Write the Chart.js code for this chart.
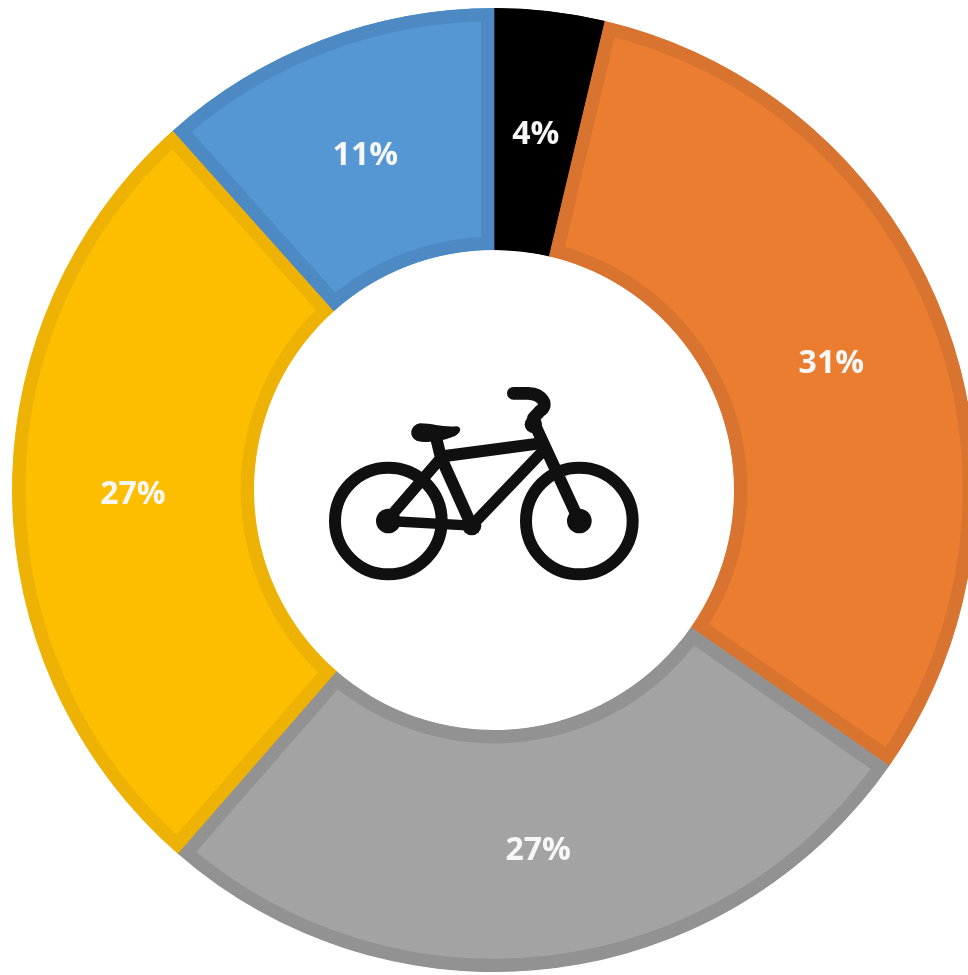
<!DOCTYPE html>
<html>
<head>
<meta charset="utf-8">
<script src="https://cdn.jsdelivr.net/npm/chart.js@4"></script>
<style>
html,body{margin:0;padding:0;background:#fff;overflow:hidden;width:968px;height:975px}
#wrap{position:absolute;left:12px;top:8px;width:964px;height:964px}
#c{filter:blur(0.6px)}
</style>
</head>
<body>
<div id="wrap"><canvas id="c" width="964" height="964"></canvas></div>
<script>
const categories = ["Black","Orange","Grey","Yellow","Blue"];
const shares = [3.7, 31, 26.7, 27, 11.6];
const shareLabels = ["4%","31%","27%","27%","11%"];
const fillColors = ["#000000","#EB7D30","#A3A3A3","#FDBE00","#5597D3"];
const rimColors = ["#000000","#D8742F","#929292","#EDB204","#4D8AC3"];

const labelPlugin = {
  id: 'sliceLabels',
  afterDatasetsDraw(chart){
    const ctx = chart.ctx;
    const arcs = chart.getDatasetMeta(0).data;
    ctx.save();
    ctx.fillStyle = '#F7F7F7';
    ctx.font = 'bold 32px "Open Sans", sans-serif';
    ctx.textAlign = 'center';
    ctx.textBaseline = 'middle';
    arcs.forEach((arc,i)=>{
      const p = arc.tooltipPosition();
      ctx.fillText(shareLabels[i], p.x, p.y + 3);
    });
    ctx.restore();
  }
};

const bikePlugin = {
  id: 'bikeIcon',
  afterDraw(chart){
    const ctx = chart.ctx;
    const arc = chart.getDatasetMeta(0).data[0];
    ctx.save();
    // icon artwork is authored in a 3x grid whose origin sits up-left of the ring centre
    ctx.translate(arc.x - 174, arc.y - 115);
    ctx.scale(1/3, 1/3);
    const ink = '#111010';
    ctx.strokeStyle = ink;
    ctx.fillStyle = ink;
    ctx.lineCap = 'round';
    ctx.lineJoin = 'round';
    const line = (w, pts) => {
      ctx.lineWidth = w;
      ctx.beginPath();
      pts.forEach((p,i)=> i ? ctx.lineTo(p[0],p[1]) : ctx.moveTo(p[0],p[1]));
      ctx.stroke();
    };
    const dot = (x,y,r) => { ctx.beginPath(); ctx.arc(x,y,r,0,Math.PI*2); ctx.fill(); };
    ctx.lineWidth = 36;
    ctx.beginPath(); ctx.arc(205,438,160,0,Math.PI*2); ctx.stroke();
    ctx.beginPath(); ctx.arc(778,438,160,0,Math.PI*2); ctx.stroke();
    dot(205,438,37); dot(778,438,37); dot(455,452,29);
    line(31,[[205,438],[455,452]]);
    line(34,[[215,420],[362,250]]);
    line(36,[[350,195],[362,245],[455,452]]);
    line(36,[[375,243],[660,205]]);
    line(34,[[455,452],[665,232]]);
    line(36,[[645,150],[778,438]]);
    dot(640,148,26);
    // handlebar
    ctx.lineWidth = 38;
    ctx.beginPath();
    ctx.moveTo(580,55);
    ctx.lineTo(625,55);
    ctx.bezierCurveTo(668,57,688,92,660,108);
    ctx.lineTo(640,130);
    ctx.stroke();
    // saddle
    ctx.beginPath();
    ctx.moveTo(300,145);
    ctx.bezierCurveTo(340,145,370,158,410,154);
    ctx.bezierCurveTo(430,158,420,180,395,187);
    ctx.bezierCurveTo(360,202,310,204,290,197);
    ctx.bezierCurveTo(265,185,270,150,300,145);
    ctx.closePath();
    ctx.fill();
    ctx.restore();
  }
};

new Chart(document.getElementById('c'), {
  type: 'doughnut',
  data: {
    labels: categories,
    datasets: [{
      data: shares,
      backgroundColor: fillColors,
      borderColor: rimColors,
      borderWidth: 13,
      borderAlign: 'inner',
      hoverOffset: 0
    }]
  },
  options: {
    responsive: false,
    animation: false,
    cutout: '49.8%',
    layout: { padding: 0 },
    plugins: { legend: { display: false }, tooltip: { enabled: false } }
  },
  plugins: [labelPlugin, bikePlugin]
});
</script>
</body>
</html>
